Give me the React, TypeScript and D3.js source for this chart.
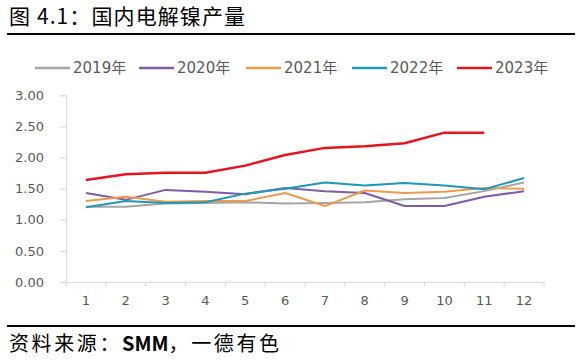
import * as d3 from "d3";
import { useEffect, useRef } from "react";

const months = ["1", "2", "3", "4", "5", "6", "7", "8", "9", "10", "11", "12"];
const yTicks = [0, 0.5, 1, 1.5, 2, 2.5, 3];

const s2019 = [1.21, 1.21, 1.26, 1.27, 1.28, 1.26, 1.27, 1.28, 1.33, 1.35, 1.46, 1.6];
const s2020 = [1.43, 1.32, 1.48, 1.45, 1.41, 1.51, 1.46, 1.43, 1.22, 1.22, 1.37, 1.46];
const s2021 = [1.3, 1.37, 1.29, 1.3, 1.3, 1.43, 1.22, 1.47, 1.43, 1.45, 1.51, 1.5];
const s2022 = [1.2, 1.3, 1.27, 1.28, 1.42, 1.5, 1.6, 1.55, 1.59, 1.55, 1.49, 1.67];
const s2023 = [1.64, 1.73, 1.755, 1.755, 1.87, 2.04, 2.155, 2.18, 2.23, 2.4, 2.4];

const seriesNames = ["2019年", "2020年", "2021年", "2022年", "2023年"];
const seriesData = [s2019, s2020, s2021, s2022, s2023];
const seriesColors = ["#a5a5a5", "#7e5ca6", "#eb9a4e", "#1f97b8", "#e5141e"];

const App = () => {
  const svgRef = useRef<SVGSVGElement | null>(null);

  useEffect(() => {
    if (!svgRef.current) return;
    const svg = d3.select(svgRef.current);
    svg.selectAll("*").remove();

    const sans = "'DejaVu Sans', 'Noto Sans CJK SC', sans-serif";
    const cjk = "'Noto Sans CJK SC', sans-serif";

    // title + rules
    svg.append("text")
      .attr("x", 9)
      .attr("y", 24)
      .attr("font-family", cjk)
      .attr("font-size", 21)
      .attr("letter-spacing", 1.1)
      .attr("fill", "#000")
      .text("图 4.1：国内电解镍产量");
    svg.append("line")
      .attr("x1", 7).attr("x2", 575)
      .attr("y1", 34).attr("y2", 34)
      .attr("stroke", "#000").attr("stroke-width", 2);
    svg.append("line")
      .attr("x1", 7).attr("x2", 575)
      .attr("y1", 326).attr("y2", 326)
      .attr("stroke", "#000").attr("stroke-width", 2);
    const src = svg.append("text")
      .attr("x", 9)
      .attr("y", 351)
      .attr("font-family", cjk)
      .attr("font-size", 20)
      .attr("letter-spacing", 2.6)
      .attr("fill", "#000");
    src.append("tspan").text("资料来源：");
    src.append("tspan").attr("font-weight", "bold").attr("letter-spacing", 0).text("SMM");
    src.append("tspan").text("，一德有色");

    // scales
    const x = d3.scaleBand<string>().domain(months).range([66, 544]).padding(0);
    const y = d3.scaleLinear().domain([0, 3]).range([282, 95.3]);
    const cx = (i: number) => (x(months[i]) ?? 0) + x.bandwidth() / 2;

    // y axis
    const yAxis = svg.append("g")
      .attr("transform", "translate(66,0)")
      .call(d3.axisLeft(y).tickValues(yTicks).tickFormat(d3.format(".2f")).tickSizeOuter(0).tickSize(6).tickPadding(16));
    yAxis.select(".domain").attr("stroke", "#d9d9d9");
    yAxis.selectAll(".tick line").attr("stroke", "#d9d9d9");
    yAxis.selectAll(".tick text")
      .attr("font-family", sans).attr("font-size", 13).attr("fill", "#595959");

    // x axis
    const xAxis = svg.append("g")
      .attr("transform", "translate(0,282)")
      .call(d3.axisBottom(x).tickSize(0).tickPadding(14));
    xAxis.select(".domain").attr("stroke", "#d9d9d9");
    xAxis.selectAll(".tick text")
      .attr("font-family", sans).attr("font-size", 13).attr("fill", "#595959");
    xAxis.selectAll(".bound")
      .data(d3.range(months.length + 1))
      .enter()
      .append("line")
      .attr("x1", (i) => 66 + i * x.bandwidth())
      .attr("x2", (i) => 66 + i * x.bandwidth())
      .attr("y1", 0).attr("y2", 5)
      .attr("stroke", "#d9d9d9");

    // lines
    const line = d3.line<number>().x((_, i) => cx(i)).y((d) => y(d));
    seriesData.forEach((data, k) => {
      svg.append("path")
        .datum(data)
        .attr("fill", "none")
        .attr("stroke", seriesColors[k])
        .attr("stroke-width", k === 4 ? 2.5 : 2)
        .attr("stroke-linejoin", "round")
        .attr("d", line);
    });

    // legend
    const legendX = [35, 139, 246, 352, 457];
    const legend = svg.append("g");
    seriesNames.forEach((name, k) => {
      legend.append("line")
        .attr("x1", legendX[k]).attr("x2", legendX[k] + 35)
        .attr("y1", 68).attr("y2", 68)
        .attr("stroke", seriesColors[k]).attr("stroke-width", 2.5);
      legend.append("text")
        .attr("x", legendX[k] + 38)
        .attr("y", 73)
        .attr("font-family", sans)
        .attr("font-size", 15)
        .attr("fill", "#595959")
        .text(name);
    });
  }, []);

  return (
    <svg
      ref={svgRef}
      width={584}
      height={363}
      style={{ position: "absolute", left: 0, top: 0, background: "#fff" }}
    ></svg>
  );
};

export default App;
